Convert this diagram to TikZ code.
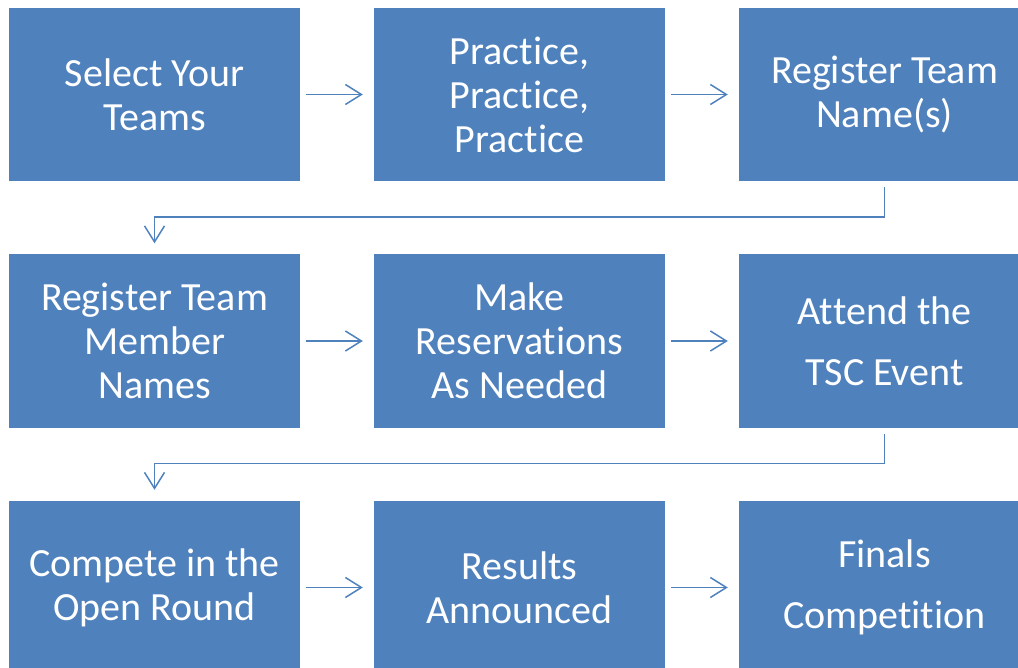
\documentclass[tikz,border=0pt]{standalone}
\usepackage{fontspec}
\setmainfont{Carlito}[Ligatures={NoCommon}]
\usetikzlibrary{arrows.meta}
\definecolor{boxblue}{HTML}{4F81BD}
\newcommand\zk{\kern0pt}
\begin{document}
\begin{tikzpicture}[x=1pt,y=-1pt,
  stepbox/.style={fill=boxblue, draw=none, minimum width=291pt, minimum height=173pt,
    inner sep=0pt, text=white, align=center, font=\fontsize{40pt}{44pt}\selectfont},
  widebox/.style={stepbox, font=\fontsize{40pt}{61pt}\selectfont},
  conn/.style={draw=boxblue, line width=1.5pt, -{Straight Barb[length=16pt,width=20pt,line width=1.5pt]}}]
\useasboundingbox (0,0) rectangle (1018,668);
\clip (0,0) rectangle (1018,668);
\node[stepbox] (a) at (154.5,94.5) {Select Your\\Teams};
\node[stepbox] (b) at (519.5,94.5) {Prac\zk tice,\\Prac\zk tice,\\Prac\zk tice};
\node[stepbox] (c) at (884.5,94.5) {Register Team\\Name(s)};
\node[stepbox] (d) at (154.5,341) {Register Team\\Member\\Names};
\node[stepbox] (e) at (519.5,341) {Make\\Reservations\\As Needed};
\node[widebox] (f) at (884.5,341) {At\zk tend the\\TSC Event};
\node[stepbox] (g) at (154.5,587.5) {Compete in the\\Open Round};
\node[stepbox] (h) at (519.5,587.5) {Results\\Announced};
\node[widebox] (i) at (884.5,587.5) {Finals\\Compet\zk it\zk ion};
\draw[conn] ([xshift=6pt]a.east) -- ([xshift=-11pt]b.west);
\draw[conn] ([xshift=6pt]b.east) -- ([xshift=-11pt]c.west);
\draw[conn] ([xshift=6pt]d.east) -- ([xshift=-11pt]e.west);
\draw[conn] ([xshift=6pt]e.east) -- ([xshift=-11pt]f.west);
\draw[conn] ([xshift=6pt]g.east) -- ([xshift=-11pt]h.west);
\draw[conn] ([xshift=6pt]h.east) -- ([xshift=-11pt]i.west);
\draw[conn] ([yshift=-6pt]c.south) -- ++(0,30) -| ([yshift=11pt]d.north);
\draw[conn] ([yshift=-6pt]f.south) -- ++(0,30) -| ([yshift=11pt]g.north);
\end{tikzpicture}
\end{document}
